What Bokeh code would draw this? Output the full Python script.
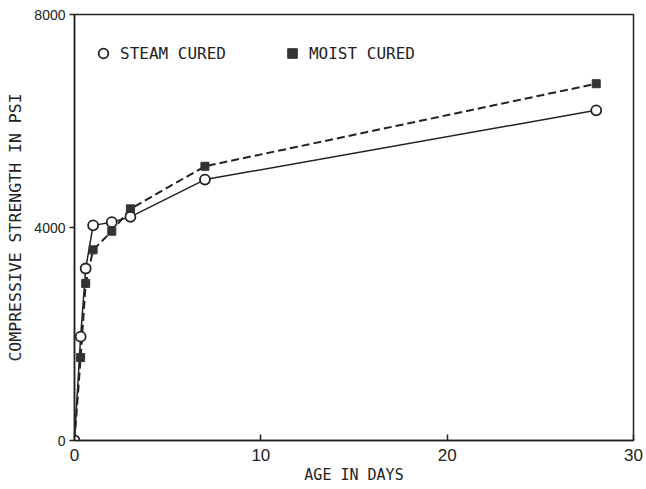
from bokeh.plotting import figure
from bokeh.models import Range1d, FixedTicker, Legend, LegendItem
from bokeh.embed import file_html
from bokeh.resources import INLINE

# Data
steam_days = [0, 0.33, 0.6, 1, 2, 3, 7, 28]
steam_psi = [0, 1950, 3230, 4040, 4100, 4200, 4900, 6200]
moist_days = [0, 0.33, 0.6, 1, 2, 3, 7, 28]
moist_psi = [0, 1560, 2950, 3580, 3930, 4350, 5150, 6700]
x_ticks = [0, 10, 20, 30]
y_ticks = [0, 4000, 8000]

p = figure(width=646, height=489, output_backend="svg", toolbar_location=None,
           x_range=Range1d(0, 30), y_range=Range1d(0, 8000))
p.min_border_left = 74
p.min_border_right = 13
p.min_border_top = 14
p.min_border_bottom = 49
p.background_fill_color = "white"
p.border_fill_color = "white"
p.outline_line_color = "#222222"
p.outline_line_width = 1.5
p.grid.visible = False

ink = "#222222"
lbl_font = "DejaVu Sans Mono"

# x axis
xa = p.xaxis[0]
xa.ticker = FixedTicker(ticks=x_ticks)
xa.major_tick_in = 6
xa.major_tick_out = 0
xa.minor_tick_line_color = None
xa.axis_line_color = ink
xa.axis_line_width = 1.5
xa.major_tick_line_color = ink
xa.major_tick_line_width = 1.5
xa.major_label_text_font = "Liberation Sans"
xa.major_label_text_font_size = "17px"
xa.major_label_text_color = ink
xa.major_label_standoff = 8
xa.axis_label = "AGE IN DAYS"
xa.axis_label_text_font = lbl_font
xa.axis_label_text_font_style = "normal"
xa.axis_label_text_font_size = "15px"
xa.axis_label_text_color = ink
xa.axis_label_standoff = 2

# y axis
ya = p.yaxis[0]
ya.ticker = FixedTicker(ticks=y_ticks)
ya.major_tick_in = 0
ya.major_tick_out = 5
ya.minor_tick_line_color = None
ya.axis_line_color = ink
ya.axis_line_width = 1.5
ya.major_tick_line_color = ink
ya.major_tick_line_width = 1.5
ya.major_label_text_font = "Liberation Sans"
ya.major_label_text_font_size = "14px"
ya.major_label_text_color = ink
ya.major_label_standoff = 4
ya.axis_label = "COMPRESSIVE STRENGTH IN PSI"
ya.axis_label_text_font = lbl_font
ya.axis_label_text_font_style = "normal"
ya.axis_label_text_font_size = "16.5px"
ya.axis_label_text_color = ink
ya.axis_label_standoff = 6

# lines
p.line(moist_days, moist_psi, line_color=ink, line_width=2, line_dash="8 4")
p.line(steam_days, steam_psi, line_color=ink, line_width=1.5)

sq = p.scatter(moist_days, moist_psi, marker="square", size=8,
               fill_color="#333333", line_color="#333333")
ci = p.scatter(steam_days, steam_psi, marker="circle", size=10,
               fill_color="white", line_color=ink, line_width=1.8)

legend = Legend(items=[LegendItem(label="STEAM CURED", renderers=[ci]),
                       LegendItem(label="MOIST CURED", renderers=[sq])],
                orientation="horizontal", location=(17, 375))
legend.glyph_width = 24
legend.glyph_height = 24
legend.label_standoff = 5
legend.spacing = 54
legend.padding = 0
legend.margin = 0
legend.border_line_alpha = 0
legend.background_fill_alpha = 0
legend.label_text_font = lbl_font
legend.label_text_font_size = "16px"
legend.label_text_color = ink
legend.label_height = 20
p.add_layout(legend, "center")

open("out.html", "w").write(file_html(p, INLINE))
